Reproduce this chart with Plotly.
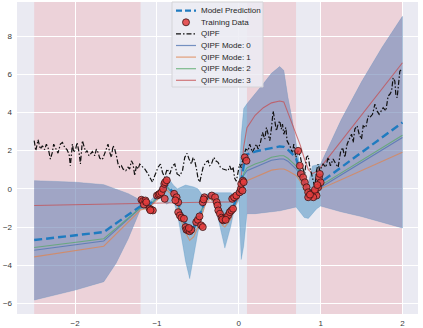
import plotly.graph_objects as go

# ---------------- data ----------------
line_x = [-2.5, -1.65, -1.2, -1.1, -1.0, -0.95, -0.88, -0.8, -0.75, -0.7, -0.65, -0.6, -0.55, -0.5,
          -0.45, -0.4, -0.35, -0.3, -0.25, -0.2, -0.17, -0.1, -0.05, 0.0, 0.03, 0.06, 0.1, 0.2, 0.3,
          0.4, 0.5, 0.55, 0.6, 0.65, 0.7, 0.75, 0.8, 0.85, 0.9, 0.95, 1.0, 1.25, 1.5, 1.75, 2.0]

model_pred = [-2.68, -2.26, -0.9, -0.85, -0.4, -0.15, 0.2, -0.2, -0.6, -1.3, -1.85, -2.15, -2.0, -1.6,
              -1.0, -0.5, -0.35, -0.45, -1.0, -1.45, -1.6, -1.3, -0.75, -0.2, 0.4, 1.2, 1.8, 1.95, 2.05,
              2.15, 2.22, 2.2, 2.05, 1.85, 1.6, 0.9, 0.35, -0.15, -0.3, -0.15, 0.34, 1.12, 1.9, 2.68, 3.47]

mode0 = [-3.21, -2.73, -1.0, -0.95, -0.5, -0.25, 0.1, -0.3, -0.7, -1.45, -2.0, -2.3, -2.15, -1.75,
         -1.1, -0.6, -0.45, -0.55, -1.1, -1.6, -1.75, -1.4, -0.85, -0.3, 0.2, 0.7, 0.95, 1.12, 1.3,
         1.5, 1.56, 1.56, 1.45, 1.25, 1.05, 0.7, 0.2, -0.25, -0.4, -0.25, 0.07, 0.72, 1.38, 2.03, 2.69]

mode1 = [-3.56, -3.0, -1.1, -1.0, -0.6, -0.35, -0.05, -0.4, -0.85, -1.7, -2.3, -2.7, -2.5, -2.0,
         -1.3, -0.7, -0.55, -0.65, -1.3, -1.9, -2.0, -1.6, -0.95, -0.45, -0.1, 0.25, 0.43, 0.6, 0.78,
         0.98, 1.04, 1.04, 0.95, 0.82, 0.7, 0.4, -0.05, -0.4, -0.5, -0.4, 0.0, 0.48, 0.96, 1.43, 1.91]

mode2 = [-3.07, -2.61, -0.98, -0.9, -0.45, -0.2, 0.15, -0.25, -0.65, -1.4, -1.95, -2.25, -2.1, -1.7,
         -1.05, -0.55, -0.4, -0.5, -1.05, -1.55, -1.7, -1.35, -0.8, -0.25, 0.25, 0.8, 1.1, 1.3, 1.45,
         1.65, 1.73, 1.73, 1.6, 1.4, 1.2, 0.8, 0.25, -0.2, -0.35, -0.2, 0.17, 0.83, 1.49, 2.15, 2.81]

mode3 = [-0.87, -0.8, -0.73, -0.72, -0.71, -0.71, -0.7, -0.7, -0.7, -0.7, -0.7, -0.7, -0.7, -0.7,
         -0.7, -0.7, -0.7, -0.7, -0.7, -0.7, -0.7, -0.69, -0.68, -0.5, 0.6, 2.2, 3.2, 3.85, 4.25,
         4.5, 4.6, 4.55, 4.0, 3.45, 2.9, 2.3, 1.6, 1.0, 0.8, 0.9, 1.13, 2.5, 3.85, 5.2, 6.6]

band_x = [-2.5, -2.0, -1.65, -1.5, -1.35, -1.2, -1.1, -1.0, -0.95, -0.88, -0.8, -0.75, -0.7, -0.65,
          -0.6, -0.55, -0.5, -0.45, -0.4, -0.35, -0.3, -0.25, -0.2, -0.17, -0.1, -0.05, 0.0, 0.03,
          0.06, 0.1, 0.2, 0.3, 0.4, 0.5, 0.55, 0.6, 0.65, 0.7, 0.75, 0.8, 0.85, 0.9, 0.95, 1.0,
          1.25, 1.5, 1.75, 2.0]
band_upper = [0.43, 0.35, 0.22, 0.0, -0.25, -0.6, -0.7, -0.25, 0.2, 0.69, 0.2, 0.0, 0.1, 0.2,
              0.15, 0.1, 0.0, -0.3, -0.3, -0.2, -0.2, -0.2, -0.2, -0.2, -0.2, -0.3, 0.1, 2.8,
              4.2, 4.45, 4.95, 5.5, 6.05, 6.4, 6.2, 4.8, 3.7, 2.4, 1.1, 0.6, 0.3, 1.2, 1.25, 1.3,
              3.6, 5.6, 7.4, 9.03]
band_lower = [-5.82, -5.3, -4.86, -3.9, -2.6, -1.05, -1.05, -0.55, -0.5, -0.8, -0.6, -1.3, -2.6, -3.8,
              -4.7, -3.6, -2.3, -1.4, -0.65, -0.5, -0.8, -1.6, -2.5, -3.1, -2.0, -1.0, -0.6, -3.7,
              -3.0, -1.3, -1.3, -1.25, -1.2, -1.15, -1.1, -1.05, -1.0, -0.95, -1.2, -1.5, -1.55, -1.3,
              -1.05, -0.9, -1.2, -1.45, -1.75, -2.05]

qipf_x = [-2.5, -2.48, -2.453, -2.424, -2.40, -2.372, -2.351, -2.331, -2.302, -2.278, -2.262, -2.237,
          -2.209, -2.18, -2.155, -2.127, -2.099, -2.074, -2.058, -2.033, -2.017, -1.993, -1.976,
          -1.952, -1.935, -1.911, -1.895, -1.87, -1.854, -1.83, -1.813, -1.789, -1.76, -1.74, -1.72,
          -1.70, -1.68, -1.66, -1.626, -1.598, -1.577, -1.556, -1.537, -1.516, -1.495, -1.475,
          -1.455, -1.434, -1.414, -1.381, -1.353, -1.333, -1.312, -1.292, -1.271, -1.251, -1.231,
          -1.21, -1.19, -1.149, -1.109, -1.08, -1.055, -1.027, -0.986, -0.957, -0.933, -0.905,
          -0.876, -0.843, -0.81, -0.782, -0.754, -0.721, -0.688, -0.66, -0.632, -0.608, -0.578,
          -0.558, -0.538, -0.517, -0.497, -0.477, -0.456, -0.436, -0.403, -0.375, -0.355, -0.334,
          -0.306, -0.281, -0.253, -0.224, -0.192, -0.159, -0.131, -0.11, -0.09, -0.07, -0.05,
          -0.03, -0.01, 0.01, 0.03, 0.053, 0.086, 0.114, 0.134, 0.167, 0.196, 0.216, 0.236, 0.265,
          0.29, 0.318, 0.338, 0.358, 0.379, 0.4, 0.42, 0.44, 0.46, 0.48, 0.50, 0.52, 0.534, 0.55,
          0.575, 0.59, 0.615, 0.632, 0.656, 0.672, 0.697, 0.725, 0.754, 0.778, 0.807, 0.827, 0.848,
          0.868, 0.889, 0.908, 0.929, 0.95, 0.97, 0.99, 1.03, 1.064, 1.092, 1.12, 1.153, 1.186,
          1.214, 1.243, 1.268, 1.296, 1.324, 1.349, 1.378, 1.398, 1.418, 1.446, 1.471, 1.5, 1.52,
          1.553, 1.581, 1.6, 1.634, 1.663, 1.69, 1.715, 1.744, 1.764, 1.797, 1.825, 1.846, 1.867,
          1.886, 1.907, 1.919, 1.935, 1.952, 1.968, 1.989, 2.0]
qipf_y = [2.52, 2.0, 2.57, 2.08, 2.26, 2.05, 2.34, 2.17, 1.56, 1.91, 2.34, 2.08,
          1.87, 2.34, 2.43, 2.17, 2.05, 1.82, 1.21, 2.34, 1.91, 2.08, 2.43,
          1.91, 1.3, 2.52, 2.26, 1.91, 2.0, 1.73, 1.82, 1.95, 1.73, 2.08, 1.91,
          1.62, 1.52, 1.6, 2.0, 2.34, 1.91, 1.65, 2.26, 2.08, 1.73, 1.3,
          1.13, 1.21, 1.04, 0.95, 1.13, 1.04, 1.47, 1.3, 0.69, 1.21, 1.04,
          1.3, 1.21, 1.04, 0.78, 0.52, 0.35, 0.69, 1.13, 1.3, 0.87, 0.6,
          1.04, 0.78, 1.21, 1.3, 0.78, 0.69, 0.95, 1.65, 1.86, 1.56, 1.3,
          1.65, 1.47, 1.04, 0.52, 0.35, 0.69, 1.13, 1.39, 1.47, 1.21, 1.3,
          1.65, 1.47, 1.39, 1.13, 1.04, 0.99, 0.95, 1.2, 0.95, 1.15, 0.55,
          0.4, 0.95, 1.3, 1.1, 1.65, 2.08, 2.0, 2.34, 1.91, 2.17, 2.34, 2.08, 2.43,
          2.95, 2.6, 3.21, 2.86, 2.52, 3.21, 4.08, 3.56, 3.04, 3.39, 3.56, 3.13, 3.39, 2.86,
          3.21, 2.52, 2.34, 2.17, 1.82, 2.34, 1.65, 2.0, 1.65, 1.13, 0.78, 1.65, 1.73,
          1.13, 0.78, 0.43, 0.08, 0.95, 1.3, 0.95, 1.3, 1.13, 1.65, 1.21, 1.56, 1.3,
          1.13, 1.91, 2.17, 1.65, 2.34, 2.6, 2.86, 2.43, 3.13, 3.3, 2.86, 2.6, 3.3,
          3.21, 3.82, 3.73, 3.9, 4.43, 4.08, 3.9, 4.08, 4.25, 4.08, 4.86, 4.95, 5.12,
          5.81, 5.64, 4.95, 4.77, 5.47, 6.16, 6.25, 6.25]

train_x = [-1.19, -1.17, -1.16, -1.14, -1.13, -1.09, -1.07, -1.05, -1.08,
           -1.0, -0.98, -0.965, -0.945, -0.925, -0.91, -0.9, -0.905, -0.88,
           -0.79, -0.76, -0.74, -0.775,
           -0.74, -0.72, -0.7, -0.67, -0.65, -0.64, -0.62, -0.6, -0.58, -0.61,
           -0.52, -0.5, -0.48, -0.46, -0.44, -0.44, -0.42, -0.43,
           -0.33, -0.29, -0.27, -0.26, -0.25, -0.23, -0.21, -0.19, -0.17, -0.15, -0.13, -0.11,
           -0.09, -0.07, -0.08, -0.057, -0.03, -0.2, -0.16,
           0.01, 0.025, 0.03, 0.05, 0.045, 0.06, 0.073, 0.094,
           0.725, 0.746, 0.758, 0.786, 0.807, 0.828, 0.848, 0.868, 0.889, 0.929, 0.97, 0.98,
           0.99, 1.0, 0.95, 0.91, 0.848, 0.87, 0.93, 0.96]
train_y = [-0.57, -0.64, -0.82, -0.61, -0.7, -1.04, -1.09, -1.13, -1.12,
           -0.35, -0.3, -0.25, -0.18, 0.0, 0.26, 0.35, -0.52, 0.45,
           -0.26, -0.44, -0.7, -0.6,
           -1.22, -1.39, -1.51, -1.56, -2.0, -2.14, -2.17, -2.22, -2.14, -2.05,
           -1.74, -1.62, -1.44, -1.91, -2.0, -0.7, -0.44, -0.55,
           -0.35, -0.44, -0.7, -0.87, -1.13, -1.3, -1.51, -1.65, -1.56, -1.48, -1.39, -1.22,
           -1.13, -1.04, -0.52, -0.44, -0.35, -1.6, -1.62,
           -0.18, 0.0, 0.26, 0.43, -0.09, 0.35, 1.65, 1.47,
           1.99, 1.21, 0.78, 0.6, 0.34, 0.08, -0.18, -0.35, -0.26, -0.18, 0.08, 0.6,
           0.78, 0.34, -0.35, -0.44, -0.44, -0.3, -0.05, 0.2]

test_spans = [(-2.5, -1.2), (0.1, 0.7), (1.0, 2.0)]

x_ticks = [-2, -1, 0, 1, 2]
y_ticks = [-6, -4, -2, 0, 2, 4, 6, 8]

legend_names = ["Model Prediction", "Training Data", "QIPF",
                "QIPF Mode: 0", "QIPF Mode: 1", "QIPF Mode: 2", "QIPF Mode: 3"]

# ---------------- styling ----------------
W, H = 423, 328
L, R, T, B = 17, 5, 2, 14
BG = "#EAEAF2"
C_MODEL = "#1f7bc0"
C_BAND = "rgba(31,119,180,0.42)"
C_SLATE = "rgba(170,157,192,0.5)"
MODE_COLORS = ["rgba(76,114,176,0.75)", "rgba(221,132,82,0.75)",
               "rgba(85,168,104,0.75)", "rgba(196,78,82,0.75)"]
FONT = "Liberation Sans, Arial, sans-serif"

fig = go.Figure()

for a, b in test_spans:
    fig.add_shape(type="rect", xref="x", yref="paper", x0=a, x1=b, y0=0, y1=1,
                  fillcolor="rgba(255,0,0,0.1)", line_width=0, layer="below")

# model uncertainty band
fig.add_trace(go.Scatter(x=band_x + band_x[::-1], y=band_upper + band_lower[::-1],
                         fill="toself", fillcolor=C_BAND, mode="lines",
                         line=dict(width=0.5, color="rgba(31,119,180,0.4)"),
                         hoverinfo="skip", showlegend=False))

# QIPF band in test regions
for a, b in test_spans:
    idx = [i for i, v in enumerate(band_x) if a - 1e-9 <= v <= b + 1e-9]
    sx = [band_x[i] for i in idx]
    su = [band_upper[i] for i in idx]
    sl = [band_lower[i] for i in idx]
    fig.add_trace(go.Scatter(x=sx + sx[::-1], y=su + sl[::-1], fill="toself",
                             fillcolor=C_SLATE, mode="lines", line=dict(width=0),
                             hoverinfo="skip", showlegend=False))

for vals, col in zip([mode0, mode1, mode2, mode3], MODE_COLORS):
    fig.add_trace(go.Scatter(x=line_x, y=vals, mode="lines",
                             line=dict(color=col, width=1.1), showlegend=False))

fig.add_trace(go.Scatter(x=qipf_x, y=qipf_y, mode="lines",
                         line=dict(color="#111111", width=1.2, dash="5px,2px,1.5px,2px"),
                         showlegend=False))

fig.add_trace(go.Scatter(x=line_x, y=model_pred, mode="lines",
                         line=dict(color=C_MODEL, width=2.4, dash="8px,4px"),
                         showlegend=False))

fig.add_trace(go.Scatter(x=train_x, y=train_y, mode="markers",
                         marker=dict(size=7, color="rgba(228,60,60,0.85)",
                                     line=dict(color="#3a1515", width=0.8)),
                         showlegend=False))

# ---------------- manual legend ----------------
def fx(px):
    return (px - L) / (W - L - R)


def fy(py):
    return (H - B - py) / (H - T - B)


fig.add_shape(type="rect", xref="paper", yref="paper", x0=fx(172), x1=fx(263),
              y0=fy(87), y1=fy(2), fillcolor="rgba(236,236,243,0.85)",
              line=dict(color="#d4d4d8", width=1), layer="above")

handle_styles = [
    dict(color=C_MODEL, width=2.2, dash="6px,3px"),
    None,
    dict(color="#111111", width=1.2, dash="5px,2px,1.5px,2px"),
    dict(color=MODE_COLORS[0], width=1.2),
    dict(color=MODE_COLORS[1], width=1.2),
    dict(color=MODE_COLORS[2], width=1.2),
    dict(color=MODE_COLORS[3], width=1.2),
]
for i, name in enumerate(legend_names):
    py = 10.7 + 11.6 * i
    st = handle_styles[i]
    if st is None:
        fig.add_shape(type="circle", xref="paper", yref="paper",
                      xsizemode="pixel", ysizemode="pixel",
                      xanchor=fx(186), yanchor=fy(py), x0=-3.5, x1=3.5, y0=-3.5, y1=3.5,
                      fillcolor="rgba(228,60,60,0.85)", line=dict(color="#3a1515", width=0.8),
                      layer="above")
    else:
        fig.add_shape(type="line", xref="paper", yref="paper", x0=fx(176), x1=fx(196),
                      y0=fy(py), y1=fy(py), line=st, layer="above")
    fig.add_annotation(x=fx(199), y=fy(py), xref="paper", yref="paper", text=name,
                       showarrow=False, xanchor="left", yanchor="middle",
                       font=dict(size=8, color="#262626", family=FONT))

fig.update_layout(
    width=W, height=H,
    margin=dict(l=L, r=R, t=T, b=B, autoexpand=False),
    paper_bgcolor="white", plot_bgcolor=BG,
    font=dict(family=FONT, size=8, color="#3a3a3a"),
    showlegend=False,
    hovermode=False,
)
fig.update_xaxes(range=[-2.71, 2.19], tickvals=x_ticks, showgrid=True, gridcolor="white",
                 gridwidth=1, zeroline=False, showline=False, ticks="", ticklabelstandoff=3,
                 automargin=False)
fig.update_yaxes(range=[-6.55, 9.78], tickvals=y_ticks, showgrid=True, gridcolor="white",
                 gridwidth=1, zeroline=False, showline=False, ticks="", ticklabelstandoff=4,
                 automargin=False)

fig.write_html("out.html", config={"displayModeBar": False},
               post_script="document.body.style.margin='0px';")
